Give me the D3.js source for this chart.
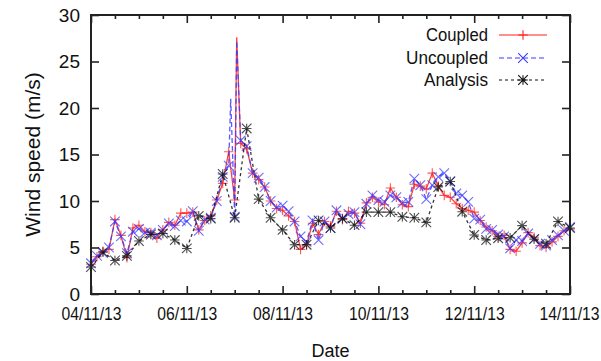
<!DOCTYPE html>
<html lang="en">
<head>
<meta charset="UTF-8">
<title>Wind speed</title>
<script src="https://cdn.jsdelivr.net/npm/d3@7"></script>
<style>
    body{ margin:0; background:#fff; }
    svg text{ font-family:"Liberation Sans", Arial, sans-serif; fill:#111; }
    .frame{ fill:none; stroke:#222; stroke-width:2px; }
    .axis path{ display:none; }
    .axis line{ stroke:#222; stroke-width:1.6px; }
    .axis text{ font-size:18px; }
</style>
</head>
<body>
<svg id="chart" width="601" height="361"></svg>
<script>
// hours after 04/11/13 00:00, values in m/s
const coupledHours = [0,3,6,9,12,15,18,21,24,27,30,33,36,39,42,45,48,51,54,57,60,63,66,69,72,73,75,78,81,84,87,90,93,96,99,102,105,108,111,114,117,120,123,126,129,132,135,138,141,144,147,150,153,156,159,162,165,168,171,174,177,180,183,186,189,192,195,198,201,204,207,210,213,216,219,222,225,228,231,234,237,240];
const coupled = [3.2,4.0,4.6,4.8,8.0,6.3,3.9,7.1,7.4,6.7,6.6,6.0,6.9,7.7,7.4,8.7,8.7,8.8,6.9,7.9,8.4,10.1,11.9,15.3,10.1,27.6,16.2,15.6,13.0,12.3,11.5,10.0,9.2,9.0,8.4,7.8,4.8,5.3,7.6,6.4,7.8,7.3,8.9,8.0,8.9,8.7,7.6,9.8,10.4,9.9,9.6,11.4,10.4,9.6,9.4,11.8,11.6,11.3,13.0,11.6,10.6,10.4,9.7,9.2,9.0,8.8,7.9,7.2,6.8,6.2,6.3,4.8,4.6,5.5,6.6,6.1,5.2,5.0,5.6,6.2,6.8,7.0];

const uncoupledHours = [0,3,6,9,12,15,18,21,24,27,30,33,36,39,42,45,48,51,54,57,60,63,66,69,70,72,73,75,78,81,84,87,90,93,96,99,102,105,108,111,114,117,120,123,126,129,132,135,138,141,144,147,150,153,156,159,162,165,168,171,174,177,180,183,186,189,192,195,198,201,204,207,210,213,216,219,222,225,228,231,234,237,240];
const uncoupled = [3.3,4.1,4.4,5.0,7.8,6.2,4.4,6.7,7.0,6.6,6.6,6.3,6.9,7.6,7.3,7.9,7.8,8.9,6.8,8.0,8.2,10.0,12.6,13.8,21.0,8.3,27.2,16.5,15.9,13.0,12.5,11.5,10.0,9.3,9.5,8.9,7.8,6.2,5.6,7.9,5.8,7.8,7.1,9.0,8.1,8.6,8.8,7.5,9.7,10.6,10.1,9.9,10.6,10.4,9.8,9.9,12.4,11.7,10.2,11.7,12.6,13.0,12.1,10.8,10.6,9.9,8.1,8.0,7.0,6.9,6.4,6.2,4.9,5.8,5.7,6.5,5.9,5.4,5.2,5.8,6.3,6.8,7.2];

// analysis every 6 hours
const analysis = [2.9,4.5,3.6,4.1,5.7,6.4,6.5,5.8,4.9,8.4,8.1,12.9,8.2,17.8,10.2,8.2,6.9,5.3,5.3,7.9,7.1,8.1,7.4,8.8,8.8,8.8,8.3,8.2,7.7,11.5,12.1,8.85,6.35,5.8,6.0,6.05,7.35,5.9,5.4,7.8,7.1];

const xTickDays = [4,6,8,10,12,14];
const yTicks = [0,5,10,15,20,25,30];
const seriesNames = ["Coupled","Uncoupled","Analysis"];

const svg = d3.select('#chart');
const plotLeft = 91, plotRight = 570, plotTop = 15, plotBottom = 294;

const start = new Date(2013,10,4);
const end = new Date(2013,10,14);
const hourDate = h => d3.timeHour.offset(start, h);

const x = d3.scaleTime().domain([start,end]).range([plotLeft,plotRight]);
const y = d3.scaleLinear().domain([0,30]).range([plotBottom,plotTop]);

const fmt = d3.timeFormat('%d/%m/%y');
const majorDates = xTickDays.map(d => new Date(2013,10,d));
const minorDates = d3.timeHour.every(12).range(start, d3.timeHour.offset(end,1))
    .filter(d => !majorDates.some(m => +m === +d));

// bottom + top axes (ticks pointing in)
const xAxisG = svg.append('g').attr('class','axis')
    .attr('transform',`translate(0,${plotBottom})`)
    .call(d3.axisBottom(x).tickValues(majorDates).tickFormat(fmt).tickSize(-8).tickPadding(13));
// the original labels are set in a narrow face
xAxisG.selectAll('text')
    .attr('textLength',60)
    .attr('lengthAdjust','spacingAndGlyphs')
    .style('font-size','19px');
// last label sits against the right edge
xAxisG.selectAll('.tick:last-of-type text')
    .attr('text-anchor','end')
    .attr('x',29);
svg.append('g').attr('class','axis')
    .attr('transform',`translate(0,${plotBottom})`)
    .call(d3.axisBottom(x).tickValues(minorDates).tickFormat('').tickSize(-4));
svg.append('g').attr('class','axis')
    .attr('transform',`translate(0,${plotTop})`)
    .call(d3.axisTop(x).tickValues(majorDates).tickFormat('').tickSize(-8));
svg.append('g').attr('class','axis')
    .attr('transform',`translate(0,${plotTop})`)
    .call(d3.axisTop(x).tickValues(minorDates).tickFormat('').tickSize(-4));

// left + right axes
svg.append('g').attr('class','axis')
    .attr('transform',`translate(${plotLeft},0)`)
    .call(d3.axisLeft(y).tickValues(yTicks).tickSize(-8).tickPadding(11))
    .selectAll('text').style('font-size','19px');
svg.append('g').attr('class','axis')
    .attr('transform',`translate(${plotRight},0)`)
    .call(d3.axisRight(y).tickValues(yTicks).tickFormat('').tickSize(-8));

// axis titles
svg.append('text')
    .attr('transform',`translate(40,${(plotTop+plotBottom)/2}) rotate(-90)`)
    .attr('text-anchor','middle')
    .style('font-size','21px')
    .text('Wind speed (m/s)');
svg.append('text')
    .attr('x',(plotLeft+plotRight)/2).attr('y',357)
    .attr('text-anchor','middle')
    .style('font-size','18px')
    .text('Date');

// marker shapes
const s = 4.8;
const plusPath = `M${-s},0H${s}M0,${-s}V${s}`;
const crossPath = `M${-s},${-s}L${s},${s}M${-s},${s}L${s},${-s}`;
const starPath = plusPath + crossPath;

const series = [
    {name:seriesNames[0], pts:coupledHours.map((h,i)=>({h, v:coupled[i]})),
     color:'#ff2020', dash:null, marker:plusPath},
    {name:seriesNames[1], pts:uncoupledHours.map((h,i)=>({h, v:uncoupled[i]})),
     color:'#3c3cff', dash:'5,3', marker:crossPath},
    {name:seriesNames[2], pts:analysis.map((v,i)=>({h:i*6, v})),
     color:'#111', dash:'3,3', marker:starPath}
];

const line = d3.line().x(d => x(hourDate(d.h))).y(d => y(d.v));
const plot = svg.append('g');

series.forEach(sr => {
    plot.append('path')
        .datum(sr.pts)
        .attr('d',line)
        .attr('fill','none')
        .attr('stroke',sr.color)
        .attr('stroke-width',1.3)
        .attr('stroke-opacity',0.85)
        .attr('stroke-dasharray',sr.dash);
    plot.selectAll(null)
        .data(sr.pts.filter(d => d.h % 3 === 0))
        .enter().append('path')
        .attr('transform',d => `translate(${x(hourDate(d.h))},${y(d.v)})`)
        .attr('d',sr.marker)
        .attr('stroke',sr.color)
        .attr('stroke-width',1.1)
        .attr('stroke-opacity',0.75);
});

// legend
const legend = svg.append('g');
const legendY = [35,58,80];
series.forEach((sr,i) => {
    legend.append('text')
        .attr('x',488).attr('y',legendY[i])
        .attr('dy','0.35em')
        .attr('text-anchor','end')
        .style('font-size','18px')
        .attr('textLength',[62,82,64][i])
        .attr('lengthAdjust','spacingAndGlyphs')
        .text(sr.name);
    legend.append('line')
        .attr('x1',499).attr('x2',547)
        .attr('y1',legendY[i]).attr('y2',legendY[i])
        .attr('stroke',sr.color)
        .attr('stroke-width',1.2)
        .attr('stroke-dasharray',sr.dash);
    legend.append('path')
        .attr('transform',`translate(523,${legendY[i]})`)
        .attr('d',sr.marker)
        .attr('stroke',sr.color)
        .attr('stroke-width',1.1);
});

// border
svg.append('rect').attr('class','frame')
    .attr('x',plotLeft).attr('y',plotTop)
    .attr('width',plotRight-plotLeft).attr('height',plotBottom-plotTop);
</script>
</body>
</html>
